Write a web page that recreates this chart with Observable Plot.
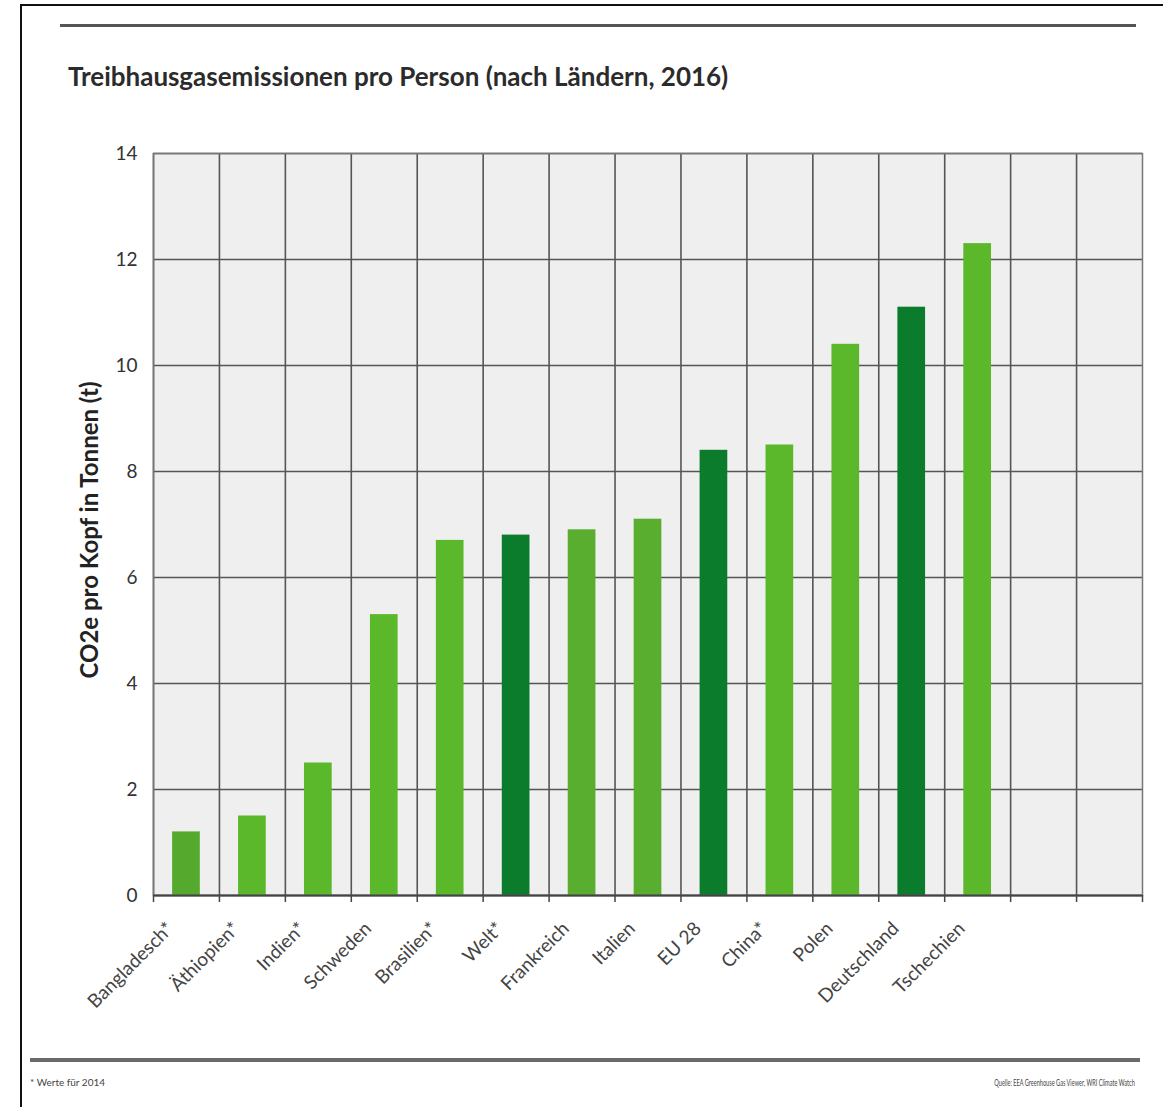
<!DOCTYPE html>
<html><head><meta charset="utf-8">
<script src="https://cdn.jsdelivr.net/npm/d3@7"></script>
<script src="https://cdn.jsdelivr.net/npm/@observablehq/plot@0.6"></script>
<style>
body{margin:0;background:#fff;font-family:Lato,"Open Sans",sans-serif;}
#wrap{position:relative;width:1163px;height:1107px;overflow:hidden;background:#fff;}
#bt{position:absolute;left:20px;top:4px;width:1143px;height:0;border-top:2px solid #111;}
#bl{position:absolute;left:20px;top:4px;width:0;height:1103px;border-left:2px solid #111;}
#rt{position:absolute;left:60px;top:24px;width:1076px;height:3px;background:#555;}
#rb{position:absolute;left:30px;top:1058px;width:1110px;height:4px;background:#6a6a6a;}
#title{position:absolute;left:68px;top:60px;font-size:26px;font-weight:bold;color:#2b2b2b;white-space:nowrap;}
#ylab{position:absolute;left:88px;top:530px;transform:translate(-50%,-50%) rotate(-90deg);font-size:24px;font-weight:bold;color:#222;white-space:nowrap;}
#foot{position:absolute;left:30px;top:1076px;font-size:10px;color:#444;}
#src{position:absolute;right:28px;top:1076px;font-size:10px;color:#444;transform:scaleX(0.56);transform-origin:right center;white-space:nowrap;}
#chart{position:absolute;left:0;top:120px;}
</style></head><body>
<div id="wrap">
<div id="bt"></div><div id="bl"></div><div id="rt"></div><div id="rb"></div>
<div id="title">Treibhausgasemissionen pro Person (nach Ländern, 2016)</div>
<div id="ylab">CO2e pro Kopf in Tonnen (t)</div>
<div id="foot">* Werte für 2014</div>
<div id="src">Quelle: EEA Greenhouse Gas Viewer, WRI Climate Watch</div>
<div id="chart"></div>
</div>
<script>
const countries = ["Bangladesch*","Äthiopien*","Indien*","Schweden","Brasilien*","Welt*","Frankreich","Italien","EU 28","China*","Polen","Deutschland","Tschechien"];
const emptySlots = [" ", "  "];
const values = [1.2,1.5,2.5,5.3,6.7,6.8,6.9,7.1,8.4,8.5,10.4,11.1,12.3];
const barColors = ["#55aa2e","#5cb82b","#5cb82b","#5cb82b","#5cb82b","#0b7b2c","#59ad2f","#59ad2f","#0b7b2c","#5cb82b","#5cb82b","#0b7b2c","#5cb82b"];
const yTicks = [0,2,4,6,8,10,12,14];

const data = countries.map((c,i)=>({country:c, value:values[i], color:barColors[i]}));
const slots = countries.concat(emptySlots);

const W = 1163, H = 930, mL = 153, mR = 21, mT = 33, mB = 155;
const step = (W - mL - mR) / slots.length;

const chart = Plot.plot({
  width: W, height: H,
  marginLeft: mL, marginRight: mR, marginTop: mT, marginBottom: mB,
  style: {fontFamily: "Lato, 'Open Sans', sans-serif", background: "transparent"},
  x: {domain: slots, paddingInner: 0.58, paddingOuter: 0.29, round: false, axis: null},
  y: {domain: [0,14], ticks: yTicks, tickSize: 0, tickPadding: 16, label: null, tickFormat: d=>d},
  marks: [
    Plot.frame({fill: "#efefef", stroke: "none"}),
    Plot.ruleY(yTicks, {stroke: "#555", strokeWidth: 1.6}),
    Plot.ruleX(slots, {x: d=>d, stroke: "#555", strokeWidth: 1.6, dx: -step/2}),
    Plot.barY(data, {x: "country", y: "value", fill: "color"}),
    Plot.frame({stroke: "#777", strokeWidth: 1.5}),
    Plot.ruleY([0], {stroke: "#444", strokeWidth: 2}),
    Plot.ruleX(slots, {x: d=>d, y1: 0, y2: 0, insetBottom: -7, stroke: "#444", strokeWidth: 1.5, dx: -step/2}),
    Plot.ruleX([slots[slots.length-1]], {x: d=>d, y1: 0, y2: 0, insetBottom: -7, stroke: "#444", strokeWidth: 1.5, dx: step/2}),
    Plot.text(countries, {x: d=>d, y: 0, text: d=>d, rotate: -45, textAnchor: "end", dx: -16, dy: 30, fontSize: 19, fill: "#444"})
  ]
});
chart.querySelectorAll("g[aria-label='y-axis tick label']").forEach(g=>{g.setAttribute("font-size","19"); g.setAttribute("fill","#333");});
document.getElementById("chart").appendChild(chart);
</script>
</body></html>
